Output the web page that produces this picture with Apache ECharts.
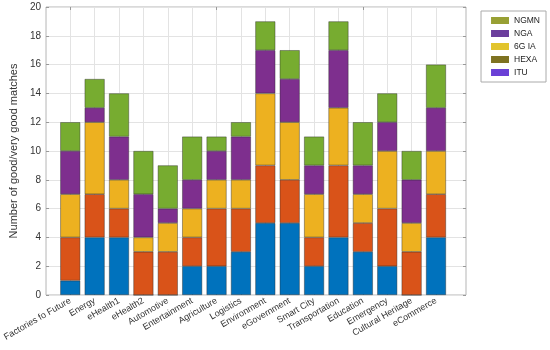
<!DOCTYPE html>
<html>
<head>
<meta charset="utf-8">
<script src="https://cdn.jsdelivr.net/npm/echarts@6/dist/echarts.min.js"></script>
<style>html,body{margin:0;padding:0;background:#fff;}#c{width:550px;height:350px;}</style>
</head>
<body>
<div id="c"></div>
<script>
const categories = ['Factories fo Future','Energy','eHealth1','eHealth2','Automotive','Entertainment','Agriculture','Logistics','Environment','eGovernment','Smart City','Transportation','Education','Emergency','Cultural Heritage','eCommerce'];
const ITU   = [1,4,4,0,0,2,2,3,5,5,2,4,3,2,0,4];
const HEXA  = [3,3,2,3,3,2,4,3,4,3,2,5,2,4,3,3];
const G6IA  = [3,5,2,1,2,2,2,2,5,4,3,4,2,4,2,3];
const NGA   = [3,1,3,3,1,2,2,3,3,3,2,4,2,2,3,3];
const NGMN  = [2,2,3,3,3,3,1,1,2,2,2,2,3,2,2,3];
const yTicks = [0,2,4,6,8,10,12,14,16,18,20];

const seriesDefs = [
  {name:'ITU', data:ITU, color:'#0072BD', legendColor:'#6A40D6'},
  {name:'HEXA', data:HEXA, color:'#D95319', legendColor:'#7E7222'},
  {name:'6G IA', data:G6IA, color:'#EDB120', legendColor:'#E2C42C'},
  {name:'NGA', data:NGA, color:'#7E2F8E', legendColor:'#6B3E9C'},
  {name:'NGMN', data:NGMN, color:'#77AC30', legendColor:'#98A034'}
];
const font = 'Liberation Sans, Arial, sans-serif';
const chart = echarts.init(document.getElementById('c'), null, {renderer:'canvas'});
const option = {
  backgroundColor:'#fff',
  animation:false,
  textStyle:{fontFamily:font},
  legend:{
    orient:'vertical', right:4, top:11,
    data:['NGMN','NGA','6G IA','HEXA','ITU'].map(n=>({name:n, itemStyle:{color:seriesDefs.find(s=>s.name===n).legendColor, borderWidth:0}})),
    itemWidth:18, itemHeight:7, itemGap:4,
    backgroundColor:'#fff', borderColor:'#aaa', borderWidth:1, borderRadius:0,
    padding:[5,6,5,10],
    textStyle:{fontSize:8.5, color:'#222', fontFamily:font},
    icon:'rect'
  },
  grid:[
    {left:62, right:114, top:7, bottom:55},
    {left:31, right:84, top:7, bottom:55, show:true, borderColor:'#b5b5b5', borderWidth:1, backgroundColor:'transparent'}
  ],
  xAxis:[
    {type:'category', gridIndex:0, data:categories, boundaryGap:false,
     axisLine:{show:false},
     axisTick:{show:true, inside:true, length:3, lineStyle:{color:'#999'}},
     splitLine:{show:true, lineStyle:{color:'#e3e3e3', width:1}},
     axisLabel:{rotate:30, fontSize:9, color:'#333', margin:5, interval:0, fontFamily:font}},
    {type:'category', gridIndex:0, data:categories, boundaryGap:false, position:'top',
     axisLine:{show:false}, axisLabel:{show:false},
     axisTick:{show:true, inside:true, length:3, lineStyle:{color:'#999'}}},
    {type:'value', gridIndex:1, min:0, max:1, show:false}
  ],
  yAxis:[
    {type:'value', gridIndex:0, min:0, max:20, show:false},
    {type:'value', gridIndex:1, min:0, max:20, interval:2,
     name:'Number of good/very good matches', nameLocation:'middle', nameGap:18,
     nameTextStyle:{fontSize:11, color:'#333', fontFamily:font},
     axisLine:{show:false},
     axisTick:{show:true, inside:true, length:3, lineStyle:{color:'#999'}},
     splitLine:{show:true, lineStyle:{color:'#e3e3e3', width:1}},
     axisLabel:{fontSize:10, color:'#333', margin:5, fontFamily:font,
       formatter:(v)=> yTicks.includes(v) ? String(v) : ''}},
    {type:'value', gridIndex:1, min:0, max:20, interval:2, position:'right',
     axisLine:{show:false}, axisLabel:{show:false}, splitLine:{show:false},
     axisTick:{show:true, inside:true, length:3, lineStyle:{color:'#999'}}}
  ],
  series: seriesDefs.map(s=>({
    name:s.name, type:'bar', stack:'total', xAxisIndex:0, yAxisIndex:0,
    data:s.data, barWidth:20, clip:false,
    itemStyle:{color:s.color, borderColor:'rgba(40,40,40,0.7)', borderWidth:0.6},
    emphasis:{disabled:true}
  }))
};
chart.setOption(option);
</script>
</body>
</html>
